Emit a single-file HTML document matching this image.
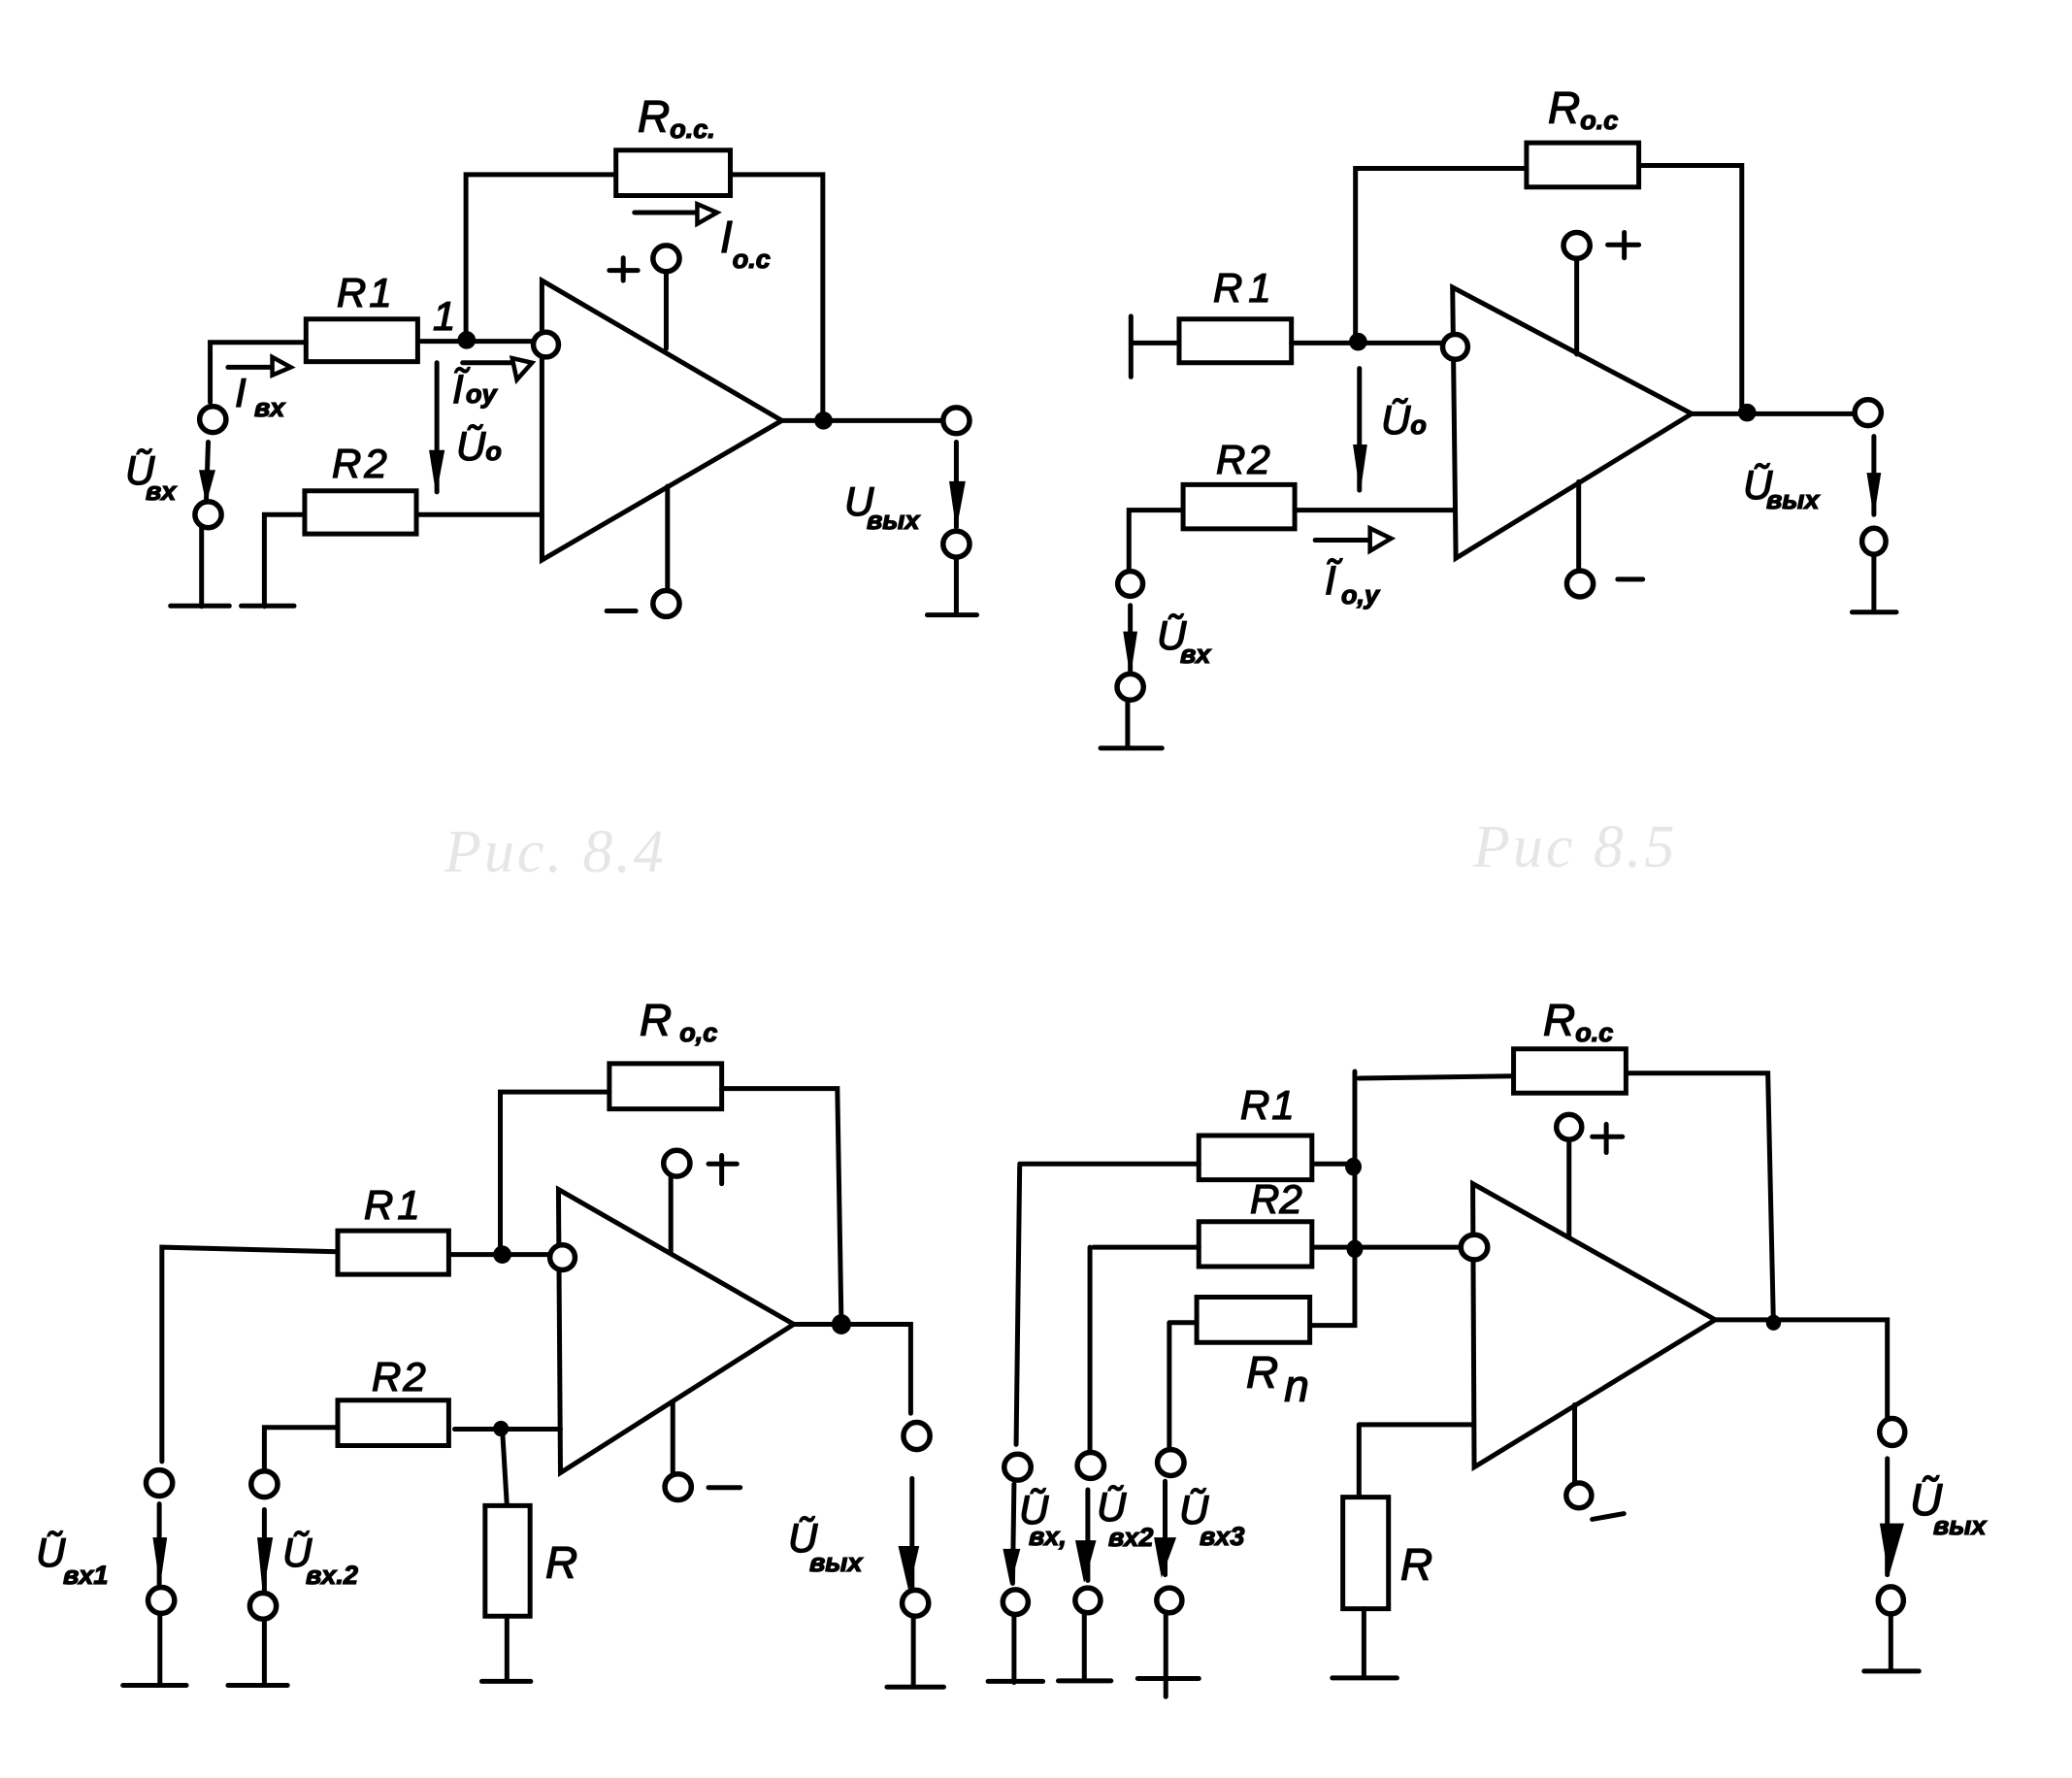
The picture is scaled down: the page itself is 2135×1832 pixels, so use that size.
<!DOCTYPE html>
<html><head><meta charset="utf-8"><style>
html,body{margin:0;padding:0;background:#fff}
svg{display:block}
.w path,.w ellipse,.w polygon{vector-effect:non-scaling-stroke;stroke:#000;stroke-width:5;fill:none;stroke-linecap:round;stroke-linejoin:miter}
.w ellipse.o{fill:#fff;stroke-width:5.5}
.w ellipse.d{fill:#000;stroke-width:1}
.w polygon.f{fill:#000;stroke-width:1}
.w polygon.h{fill:#fff;stroke-width:4.5}
text{font-family:"Liberation Sans",sans-serif;font-style:italic;fill:#000;stroke:#000;stroke-width:1.3}
.r{font-size:46px}
.s{font-size:27px;font-weight:bold}
.m{font-size:42px}
.c{font-family:"Liberation Serif",serif;font-size:62px;fill:#e6e6e6;stroke:none;letter-spacing:3px}
</style></head><body>
<svg width="2135" height="1832" viewBox="0 0 2135 1832" xmlns="http://www.w3.org/2000/svg">
<rect width="2135" height="1832" fill="#fff"/>

<g class="w" transform="scale(.681,.584)">
<path d="M932,265H1105V345H932Z M463,563H632V638H463Z M461,866H630V942H461Z"/>
<path d="M705,600V308H932 M1105,308H1245V742 M318,710V604H463 M637,602H808"/>
<path d="M820,495L1183,742L820,988Z"/>
<path d="M1008,480V615 M1010,858V1040 M1183,742H1425"/>
<path d="M632,908H820 M458,908H400V1070 M365,1069H445 M315,780L312,885 M305,930V1070 M258,1069H347"/>
<path d="M1447,780V930 M1447,985V1085 M1403,1085H1478"/>
<path d="M960,375H1060 M345,648H410 M700,640H775 M661,640V868"/>
<polygon class="h" points="1055,360 1085,375 1055,395"/>
<polygon class="h" points="412,630 440,648 412,662"/>
<polygon class="h" points="775,632 805,640 782,670"/>
<polygon class="f" points="650,795 672,795 660,868"/>
<polygon class="f" points="302,830 325,830 312,885"/>
<polygon class="f" points="1437,850 1460,850 1447,930"/>
<path d="M922,477H965 M943,455V495 M918,1078H962"/>
<ellipse class="d" cx="706" cy="600" rx="13" ry="15"/>
<ellipse class="d" cx="1246" cy="742" rx="13" ry="15"/>
<ellipse class="o" cx="322" cy="740" rx="20" ry="23"/>
<ellipse class="o" cx="315" cy="908" rx="20" ry="23"/>
<ellipse class="o" cx="1008" cy="456" rx="20" ry="23"/>
<ellipse class="o" cx="1008" cy="1065" rx="20" ry="23"/>
<ellipse class="o" cx="826" cy="608" rx="19" ry="22"/>
<ellipse class="o" cx="1447" cy="742" rx="20" ry="23"/>
<ellipse class="o" cx="1447" cy="960" rx="20" ry="23"/>
</g>

<g class="w" transform="translate(1068,0) scale(.6805,.584)">
<path d="M742,252H912V330H742Z M216,563H386V640H216Z M222,855H391V933H222Z"/>
<path d="M483,600V297H742 M912,292H1068V728 M143,558V665 M143,605H216 M386,605H615"/>
<path d="M630,507L992,730L635,985Z"/>
<path d="M818,455V625 M821,850V1008 M988,730H1240 M391,900H632 M222,900H140V1008"/>
<path d="M142,1068V1190 M138,1235V1320 M97,1320H190 M422,953H505 M489,650V865 M1268,770V908 M1268,978V1080 M1235,1080H1302"/>
<polygon class="h" points="505,932 537,950 505,972"/>
<polygon class="f" points="480,785 500,785 490,865"/>
<polygon class="f" points="1258,835 1278,835 1268,908"/>
<polygon class="f" points="132,1115 152,1115 142,1190"/>
<path d="M865,432H912 M890,410V455 M880,1022H918"/>
<ellipse class="d" cx="487" cy="603" rx="13" ry="15"/>
<ellipse class="d" cx="1076" cy="728" rx="13" ry="15"/>
<ellipse class="o" cx="634" cy="612" rx="19" ry="22"/>
<ellipse class="o" cx="818" cy="433" rx="20" ry="23"/>
<ellipse class="o" cx="823" cy="1030" rx="20" ry="23"/>
<ellipse class="o" cx="1259" cy="728" rx="20" ry="23"/>
<ellipse class="o" cx="1268" cy="955" rx="18" ry="23"/>
<ellipse class="o" cx="142" cy="1030" rx="19" ry="22"/>
<ellipse class="o" cx="142" cy="1212" rx="20" ry="23"/>
</g>

<g class="w" transform="translate(0,916) scale(.681,.584)">
<path d="M922,308H1092V388H922Z M511,603H679V680H511Z M511,902H679V982H511Z M734,1088H802V1283H734Z"/>
<path d="M757,630V358H922 M1092,352H1267L1273,765 M245,1010V632L511,640 M679,645H830"/>
<path d="M845,530L1201,768L848,1030Z"/>
<path d="M1015,505V640 M1018,905V1035 M1072,485H1115 M1092,470V520 M1072,1056H1120"/>
<path d="M1198,768H1378V925 M1380,1040V1235 M1382,1285V1408 M1342,1408H1428"/>
<path d="M511,950H400V1030 M688,953H848 M760,952L767,1088 M767,1283V1398 M729,1398H803"/>
<path d="M241,1085V1230 M242,1275V1405 M186,1405H282 M400,1095V1240 M400,1290V1405 M345,1405H435"/>
<polygon class="f" points="1360,1160 1390,1160 1375,1235"/>
<polygon class="f" points="232,1145 252,1145 242,1225"/>
<polygon class="f" points="390,1145 412,1145 398,1238"/>
<ellipse class="d" cx="760" cy="645" rx="13" ry="15"/>
<ellipse class="d" cx="758" cy="952" rx="11" ry="13"/>
<ellipse class="d" cx="1273" cy="768" rx="14" ry="17"/>
<ellipse class="o" cx="851" cy="650" rx="19" ry="22"/>
<ellipse class="o" cx="1024" cy="484" rx="20" ry="23"/>
<ellipse class="o" cx="1026" cy="1055" rx="20" ry="23"/>
<ellipse class="o" cx="1387" cy="965" rx="20" ry="24"/>
<ellipse class="o" cx="1385" cy="1260" rx="20" ry="23"/>
<ellipse class="o" cx="241" cy="1048" rx="20" ry="23"/>
<ellipse class="o" cx="244" cy="1255" rx="20" ry="23"/>
<ellipse class="o" cx="400" cy="1050" rx="20" ry="23"/>
<ellipse class="o" cx="398" cy="1265" rx="20" ry="23"/>
</g>

<g class="w" transform="translate(1000,916) scale(.7239,.584)">
<path d="M773,282H933V360H773Z M325,435H486V513H325Z M325,587H486V666H325Z M322,720H483V800H322Z M530,1073H595V1270H530Z"/>
<path d="M547,322V770H485 M553,334L773,330 M933,325H1135L1143,770"/>
<path d="M70,485H325 M70,490L65,980 M486,485H545 M175,632H325 M170,632V990 M486,632H700 M285,765H322 M283,765V990"/>
<path d="M715,520L1060,760L717,1020Z"/>
<path d="M852,440V615 M860,910V1048 M885,437H928 M905,415V465 M885,1112L930,1102"/>
<path d="M1060,760H1305V935 M1305,1005V1210 M1310,1278V1380 M1272,1380H1350"/>
<path d="M553,945H715 M553,945V1072 M560,1270V1390 M515,1392H607"/>
<path d="M62,1050L60,1225 M167,1060V1220 M277,1045V1210 M62,1280V1400 M25,1398H103 M162,1280V1397 M125,1397H200 M278,1278V1425 M238,1393H325"/>
<polygon class="f" points="1295,1120 1328,1120 1307,1210"/>
<polygon class="f" points="47,1165 70,1165 57,1225"/>
<polygon class="f" points="150,1150 178,1150 162,1222"/>
<polygon class="f" points="262,1145 292,1145 272,1212"/>
<ellipse class="d" cx="545" cy="490" rx="11" ry="15"/>
<ellipse class="d" cx="547" cy="635" rx="11" ry="15"/>
<ellipse class="d" cx="1143" cy="765" rx="10" ry="13"/>
<ellipse class="o" cx="717" cy="632" rx="19" ry="22"/>
<ellipse class="o" cx="852" cy="420" rx="18" ry="22"/>
<ellipse class="o" cx="866" cy="1070" rx="18" ry="22"/>
<ellipse class="o" cx="1312" cy="958" rx="18" ry="24"/>
<ellipse class="o" cx="1310" cy="1255" rx="18" ry="24"/>
<ellipse class="o" cx="67" cy="1020" rx="19" ry="23"/>
<ellipse class="o" cx="171" cy="1017" rx="19" ry="23"/>
<ellipse class="o" cx="285" cy="1012" rx="19" ry="23"/>
<ellipse class="o" cx="64" cy="1258" rx="18" ry="22"/>
<ellipse class="o" cx="167" cy="1255" rx="18" ry="22"/>
<ellipse class="o" cx="283" cy="1255" rx="18" ry="22"/>
</g>

<!-- Diagram a -->
<text class="r" x="657" y="136">R<tspan class="s" dy="6">o.c.</tspan></text>
<text class="r" x="742" y="260">I<tspan class="s" dy="16">o.c</tspan></text>
<text class="m" x="347" y="316" letter-spacing="3">R1</text>
<text class="m" x="446" y="340">1</text>
<text class="m" x="342" y="492" letter-spacing="3">R2</text>
<text class="m" x="242" y="419">I<tspan class="s" dy="10" x="262">вх</tspan></text>
<text class="m" x="466" y="415">Ĩ<tspan class="s" dy="0" x="480">oy</tspan></text>
<text class="m" x="470" y="474">Ũ<tspan class="s" dy="0">o</tspan></text>
<text class="m" x="129" y="499">Ũ<tspan class="s" dy="16" x="150">вх</tspan></text>
<text class="m" x="870" y="531">U<tspan class="s" dy="14" x="893">вых</tspan></text>
<text class="c" x="458" y="898">Рис. 8.4</text>

<!-- Diagram b -->
<text class="r" x="1595" y="127">R<tspan class="s" dy="6">o.c</tspan></text>
<text class="m" x="1250" y="311" letter-spacing="6">R1</text>
<text class="m" x="1253" y="488" letter-spacing="2">R2</text>
<text class="m" x="1423" y="447">Ũ<tspan class="s" dy="0">o</tspan></text>
<text class="m" x="1796" y="514">Ũ<tspan class="s" dy="10" x="1820">вых</tspan></text>
<text class="m" x="1365" y="612">Ĩ<tspan class="s" dy="10" x="1382">o,y</tspan></text>
<text class="m" x="1192" y="669">Ũ<tspan class="s" dy="14" x="1216">вх</tspan></text>
<text class="c" x="1518" y="893">Рис 8.5</text>

<!-- Diagram c -->
<text class="r" x="659" y="1067">R<tspan class="s" dy="6" dx="8">o,c</tspan></text>
<text class="m" x="375" y="1256" letter-spacing="4">R1</text>
<text class="m" x="383" y="1433" letter-spacing="2">R2</text>
<text class="m" x="37" y="1614">Ũ<tspan class="s" dy="18" x="65">вх1</tspan></text>
<text class="m" x="291" y="1614">Ũ<tspan class="s" dy="18" x="315">вх.2</tspan></text>
<text class="r" x="562" y="1626">R</text>
<text class="m" x="812" y="1599">Ũ<tspan class="s" dy="20" x="834">вых</tspan></text>

<!-- Diagram d -->
<text class="r" x="1590" y="1067">R<tspan class="s" dy="6">o.c</tspan></text>
<text class="m" x="1278" y="1153" letter-spacing="2">R1</text>
<text class="m" x="1288" y="1250">R2</text>
<text class="r" x="1284" y="1430">R<tspan class="r" dy="14" dx="6" font-size="36">n</tspan></text>
<text class="r" x="1443" y="1628">R</text>
<text class="m" x="1050" y="1570" font-size="38">Ũ<tspan class="s" dy="22" x="1060">вх,</tspan></text>
<text class="m" x="1130" y="1567" font-size="38">Ũ<tspan class="s" dy="26" x="1142">вх2</tspan></text>
<text class="m" x="1215" y="1570" font-size="38">Ũ<tspan class="s" dy="22" x="1236">вх3</tspan></text>
<text class="r" x="1968" y="1561" font-size="42">Ũ<tspan class="s" dy="20" x="1992">вых</tspan></text>
</svg>
</body></html>
